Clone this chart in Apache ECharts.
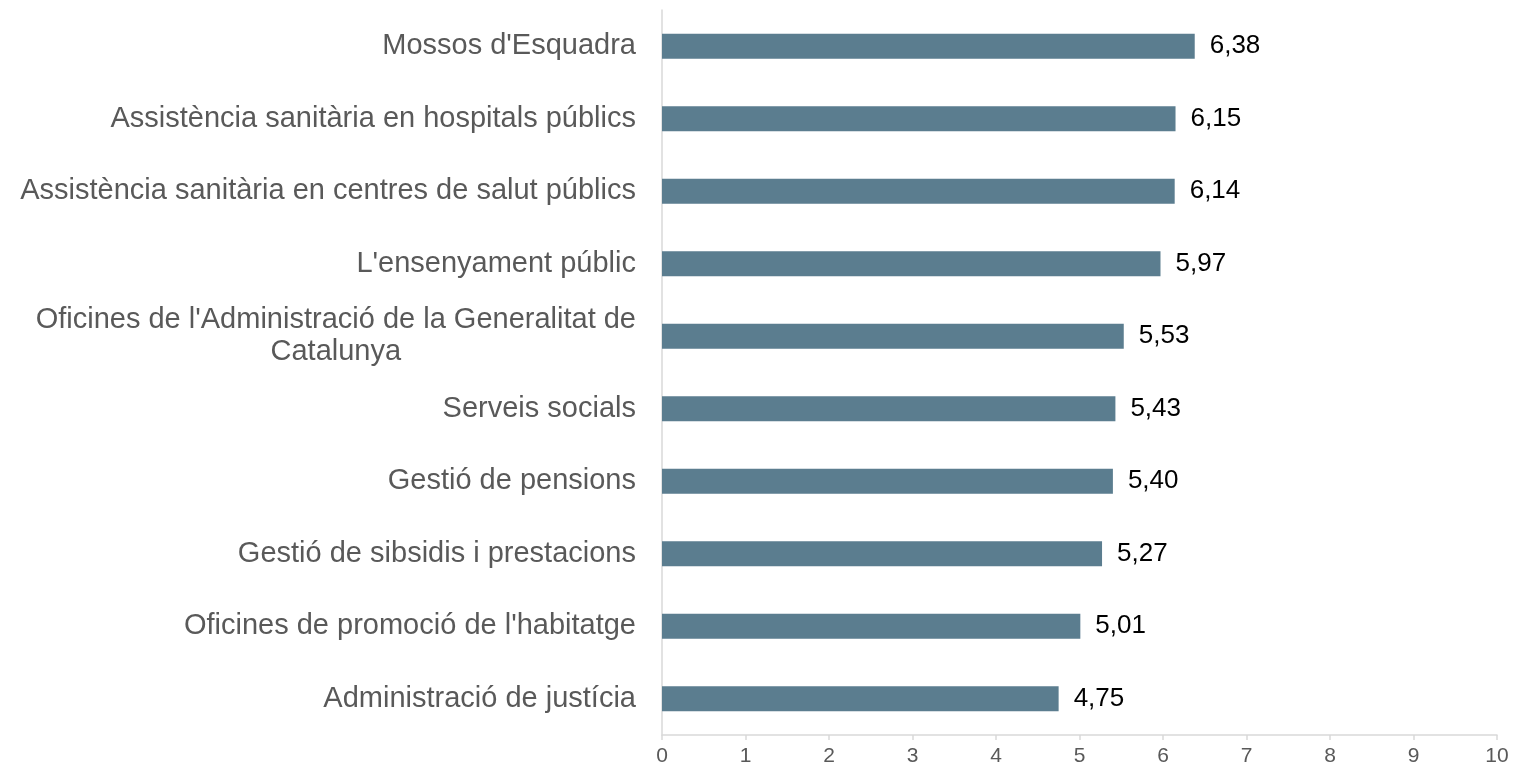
<!DOCTYPE html>
<html>
<head>
<meta charset="utf-8">
<script src="https://cdn.jsdelivr.net/npm/echarts@6/dist/echarts.min.js"></script>
<style>
html, body { margin: 0; padding: 0; background: #fff; }
#chart { width: 1514px; height: 771px; }
</style>
</head>
<body>
<div id="chart"></div>
<script>
// categories, top to bottom
var categories = [
	"Mossos d'Esquadra",
	"Assistència sanitària en hospitals públics",
	"Assistència sanitària en centres de salut públics",
	"L'ensenyament públic",
	"Oficines de l'Administració de la Generalitat de\nCatalunya",
	"Serveis socials",
	"Gestió de pensions",
	"Gestió de sibsidis i prestacions",
	"Oficines de promoció de l'habitatge",
	"Administració de justícia"
];
var values = [6.38, 6.15, 6.14, 5.97, 5.53, 5.43, 5.40, 5.27, 5.01, 4.75];
var xTicks = [0, 10, 1]; // min, max, interval

var myChart = echarts.init(document.getElementById('chart'));
var option = {
	animation: false,
	textStyle: { fontFamily: 'Liberation Sans, Arial, sans-serif' },
	grid: { left: 662, right: 17, top: 10, bottom: 36 },
	xAxis: {
		type: 'value',
		min: xTicks[0],
		max: xTicks[1],
		interval: xTicks[2],
		axisLine: { show: true, lineStyle: { color: '#d9d9d9', width: 1.5 } },
		axisTick: { show: true, length: 5, lineStyle: { color: '#d9d9d9', width: 1.5 } },
		splitLine: { show: false },
		axisLabel: { color: '#595959', fontSize: 21, margin: 11, fontFamily: 'Liberation Sans, Arial, sans-serif' }
	},
	yAxis: {
		type: 'category',
		inverse: true,
		data: categories,
		axisLine: { show: true, lineStyle: { color: '#d9d9d9', width: 1.5 } },
		axisTick: { show: false },
		axisLabel: {
			margin: 26,
			formatter: function (v) {
				return v.split('\n').map(function (s) { return '{c|' + s + '}'; }).join('\n');
			},
			rich: {
				c: { fontSize: 29, color: '#595959', align: 'center', lineHeight: 32, fontFamily: 'Liberation Sans, Arial, sans-serif' }
			}
		}
	},
	series: [{
		type: 'bar',
		data: values,
		barWidth: 25,
		itemStyle: { color: '#5b7d8f' },
		label: {
			show: true,
			position: 'right',
			distance: 15,
			fontSize: 26,
			color: '#000',
			formatter: function (p) { return p.value.toFixed(2).replace('.', ','); }
		}
	}]
};
myChart.setOption(option);
</script>
</body>
</html>
